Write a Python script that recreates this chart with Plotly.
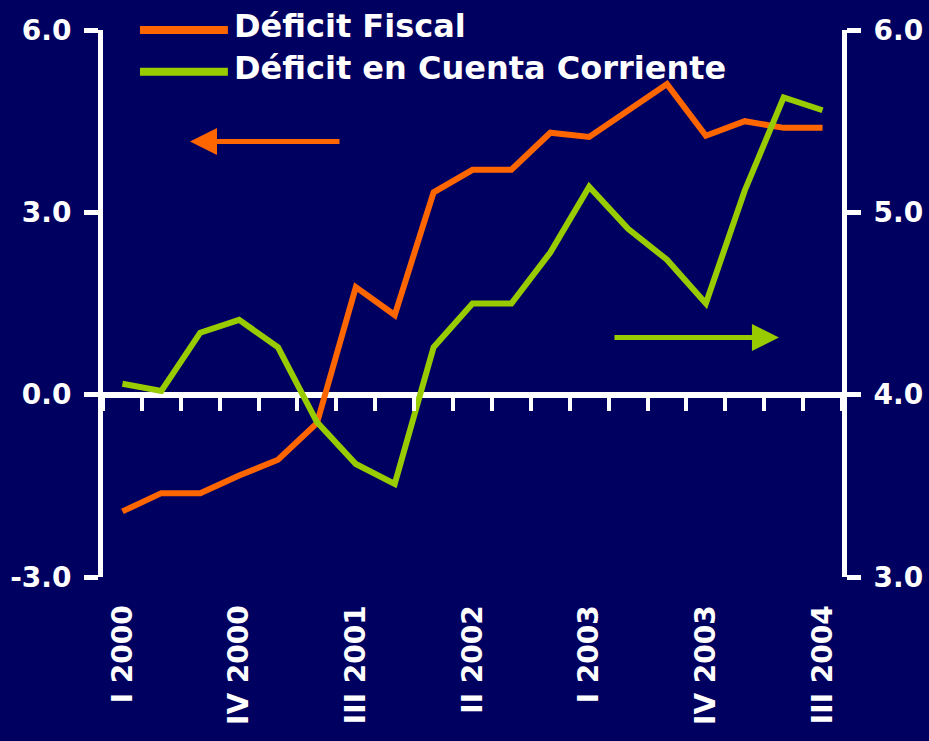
import plotly.graph_objects as go

# ---- data ----
categories = [
    "I 2000", "II 2000", "III 2000", "IV 2000",
    "I 2001", "II 2001", "III 2001", "IV 2001",
    "I 2002", "II 2002", "III 2002", "IV 2002",
    "I 2003", "II 2003", "III 2003", "IV 2003",
    "I 2004", "II 2004", "III 2004",
]
fiscal_deficit = [-1.92, -1.62, -1.62, -1.33, -1.07, -0.47, 1.77, 1.31, 3.33, 3.70,
                  3.70, 4.31, 4.24, 4.69, 5.11, 4.26, 4.50, 4.39, 4.39]
current_account_deficit = [4.06, 4.02, 4.34, 4.41, 4.26, 3.85, 3.62, 3.51, 4.26, 4.50,
                           4.50, 4.78, 5.14, 4.91, 4.74, 4.50, 5.12, 5.63, 5.56]
left_ticks = [-3, 0, 3, 6]
right_ticks = [3, 4, 5, 6]
series_names = ["Déficit Fiscal", "Déficit en Cuenta Corriente"]
label_step = 3

tick_text = [c if i % label_step == 0 else "" for i, c in enumerate(categories)]
left_text = [f"{v:.1f}" for v in left_ticks]
right_text = [f"{v:.1f}" for v in right_ticks]

BG = "#000060"
ORANGE = "#FF6600"
GREEN = "#99CC00"
FONT = "DejaVu Sans"
tickfont = dict(family=FONT, size=28, color="white", weight="bold")

fig = go.Figure()
fig.add_trace(go.Scatter(x=categories, y=fiscal_deficit, mode="lines", name=series_names[0],
                         line=dict(color=ORANGE, width=6), yaxis="y"))
fig.add_trace(go.Scatter(x=categories, y=current_account_deficit, mode="lines", name=series_names[1],
                         line=dict(color=GREEN, width=6), yaxis="y2"))

fig.update_layout(
    width=929, height=741,
    margin=dict(l=103, r=87, t=30, b=164),
    paper_bgcolor=BG, plot_bgcolor=BG,
    showlegend=False,
    xaxis=dict(
        type="category", range=[-0.5, len(categories) - 0.5],
        anchor="free", position=1 / 3,
        tickmode="array", tickvals=categories, ticktext=tick_text,
        tickson="boundaries", ticks="outside", ticklen=15, tickwidth=4, tickcolor="white",
        showline=False, showgrid=False, zeroline=False,
        tickangle=-90, tickfont=tickfont, ticklabelstandoff=204, automargin=False,
    ),
    yaxis=dict(
        range=[-3, 6], tickmode="array", tickvals=left_ticks, ticktext=left_text,
        ticks="outside", ticklen=14, tickwidth=5, tickcolor="white",
        showline=True, linecolor="white", linewidth=5, showgrid=False,
        zeroline=True, zerolinecolor="white", zerolinewidth=6,
        tickfont=tickfont, ticklabelstandoff=7, automargin=False,
    ),
    yaxis2=dict(
        overlaying="y", side="right", anchor="x",
        range=[3, 6], tickmode="array", tickvals=right_ticks, ticktext=right_text,
        ticks="outside", ticklen=14, tickwidth=5, tickcolor="white",
        showline=True, linecolor="white", linewidth=5, showgrid=False, zeroline=False,
        tickfont=tickfont, ticklabelstandoff=7, automargin=False,
    ),
)

# direction arrows
fig.add_annotation(xref="paper", yref="paper", x=0.1177, y=0.796, ax=151, ay=0, text="",
                   showarrow=True, arrowhead=2, arrowwidth=5, arrowsize=1.08, arrowcolor=ORANGE)
fig.add_annotation(xref="paper", yref="paper", x=0.9147, y=0.438, ax=-166, ay=0, text="",
                   showarrow=True, arrowhead=2, arrowwidth=5, arrowsize=1.08, arrowcolor=GREEN)

# custom legend
legend_rows = [(ORANGE, 1.0, 1.0073), (GREEN, 0.9238, 0.9305)]
for (color, ly, ty), name in zip(legend_rows, series_names):
    fig.add_shape(type="line", xref="paper", yref="paper", x0=0.050, x1=0.169, y0=ly, y1=ly,
                  line=dict(color=color, width=8))
    fig.add_annotation(xref="paper", yref="paper", x=0.175, y=ty, xanchor="left", yanchor="middle",
                       text=name, showarrow=False,
                       font=dict(family=FONT, size=32, color="white", weight="bold"))

page_js = ("document.body.style.margin='0';document.body.style.overflow='hidden';"
           "document.body.style.background='" + BG + "';")
fig.write_html("out.html", post_script=page_js, config={"displayModeBar": False})
